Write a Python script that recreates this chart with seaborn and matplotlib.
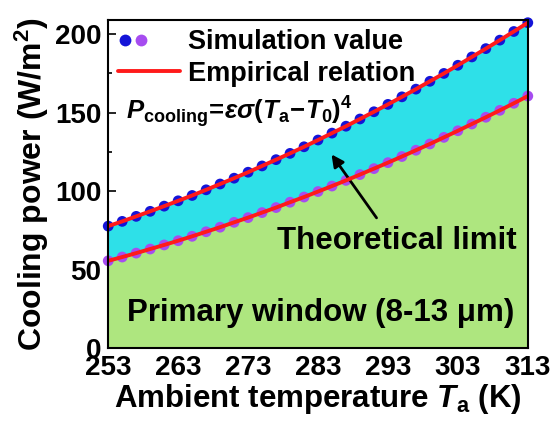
import seaborn as sns
import matplotlib.pyplot as plt
from matplotlib.lines import Line2D
from matplotlib.legend_handler import HandlerTuple
from matplotlib.ticker import MultipleLocator

# ambient temperature (K)
temps = [253, 255, 257, 259, 261, 263, 265, 267, 269, 271, 273,
         275, 277, 279, 281, 283, 285, 287, 289, 291, 293,
         295, 297, 299, 301, 303, 305, 307, 309, 311, 313]
# theoretical limit (W/m2)
upper_power = [77.7, 80.7, 83.9, 87.1, 90.4, 93.8, 97.2, 100.8, 104.5, 108.2, 112.0,
               116.0, 120.0, 124.0, 128.2, 132.5, 136.9, 141.3, 145.9, 150.5, 155.2,
               160.0, 164.9, 169.9, 174.9, 180.1, 185.4, 190.7, 196.1, 201.6, 207.2]
# primary window 8-13 um (W/m2)
lower_power = [55.6, 58.0, 60.5, 63.1, 65.7, 68.4, 71.2, 74.1, 77.0, 80.1, 83.1,
               86.3, 89.5, 92.9, 96.2, 99.7, 103.2, 106.8, 110.5, 114.3, 118.1,
               122.0, 126.0, 130.0, 134.2, 138.4, 142.7, 147.0, 151.4, 155.9, 160.5]
x_ticks = [253, 263, 273, 283, 293, 303, 313]

blue = '#1414d8'
purple = '#a64cf0'
red = '#ff1a1a'
cyan = '#2ee0e8'
green = '#aee67f'

sns.set_style("ticks")
plt.rcParams['font.family'] = ['Liberation Sans', 'DejaVu Sans']
plt.rcParams['mathtext.fontset'] = 'custom'
plt.rcParams['mathtext.rm'] = 'Liberation Sans:bold'
plt.rcParams['mathtext.it'] = 'Liberation Sans:italic:bold'
plt.rcParams['mathtext.bf'] = 'Liberation Sans:bold'
for key in ['text.color', 'axes.labelcolor', 'xtick.color', 'ytick.color', 'axes.edgecolor']:
    plt.rcParams[key] = 'black'

fig = plt.figure(figsize=(5.55, 4.23), dpi=100)
ax = fig.add_axes([0.195, 0.177, 0.756, 0.776])

ax.fill_between(temps, 0, lower_power, color=green, lw=0, zorder=1)
ax.fill_between(temps, lower_power, upper_power, color=cyan, lw=0, zorder=1)

sns.scatterplot(x=temps, y=upper_power, color=blue, s=60, edgecolor='none',
                clip_on=False, zorder=3, ax=ax)
sns.scatterplot(x=temps, y=lower_power, color=purple, s=60, edgecolor='none',
                clip_on=False, zorder=3, ax=ax)
sns.lineplot(x=temps, y=upper_power, color=red, lw=2.8, zorder=4, ax=ax)
sns.lineplot(x=temps, y=lower_power, color=red, lw=2.8, zorder=4, ax=ax)

ax.set_xlim(253, 313)
ax.set_ylim(0, 209)
ax.set_xticks(x_ticks)
ax.xaxis.set_minor_locator(MultipleLocator(5))
ax.yaxis.set_major_locator(MultipleLocator(50))
ax.yaxis.set_minor_locator(MultipleLocator(25))
ax.tick_params(which='both', direction='in', width=1.2, labelsize=20, pad=5)
ax.tick_params(which='major', length=6)
ax.tick_params(which='minor', length=3)
for lbl in ax.get_xticklabels() + ax.get_yticklabels():
    lbl.set_fontweight('bold')
for sp in ax.spines.values():
    sp.set_linewidth(1.5)
    sp.set_visible(True)
    sp.set_zorder(5)

ax.set_xlabel('Ambient temperature $T_{\\rm a}$ (K)', fontsize=22.5, fontweight='bold', labelpad=0.5)
ax.set_ylabel('Cooling power (W/m$^{\\rm 2}$)', fontsize=23, fontweight='bold', labelpad=3)

dot_b = Line2D([], [], ls='none', marker='o', ms=8.5, color=blue, mec='none')
dot_p = Line2D([], [], ls='none', marker='o', ms=8.5, color=purple, mec='none')
red_line = Line2D([], [], color=red, lw=2.8)
leg = ax.legend([(dot_b, dot_p), red_line], ['Simulation value', 'Empirical relation'],
                handler_map={tuple: HandlerTuple(ndivide=4, pad=0)},
                loc='upper left', frameon=False, handlelength=2.3, handletextpad=0.3,
                borderaxespad=0.05, borderpad=0.3, labelspacing=0.2,
                prop={'weight': 'bold', 'size': 19.5})

ax.text(255.5, 150.5, r'$P_{\rm cooling}\!=\!\varepsilon\sigma(T_{\rm a}\!-\!T_{\rm 0})^{\rm 4}$',
        fontsize=18.5, ha='left', va='center')
ax.annotate('', xy=(284.7, 124.8), xytext=(291.6, 81.5),
            arrowprops=dict(arrowstyle='-|>', color='black', lw=2, mutation_scale=18))
ax.text(294.3, 68, 'Theoretical limit', fontsize=22.5, fontweight='bold',
        ha='center', va='center')
ax.text(283.4, 22.5, 'Primary window (8-13 \u03bcm)', fontsize=22.5, fontweight='bold',
        ha='center', va='center')

fig.savefig('out.png', dpi=100)
